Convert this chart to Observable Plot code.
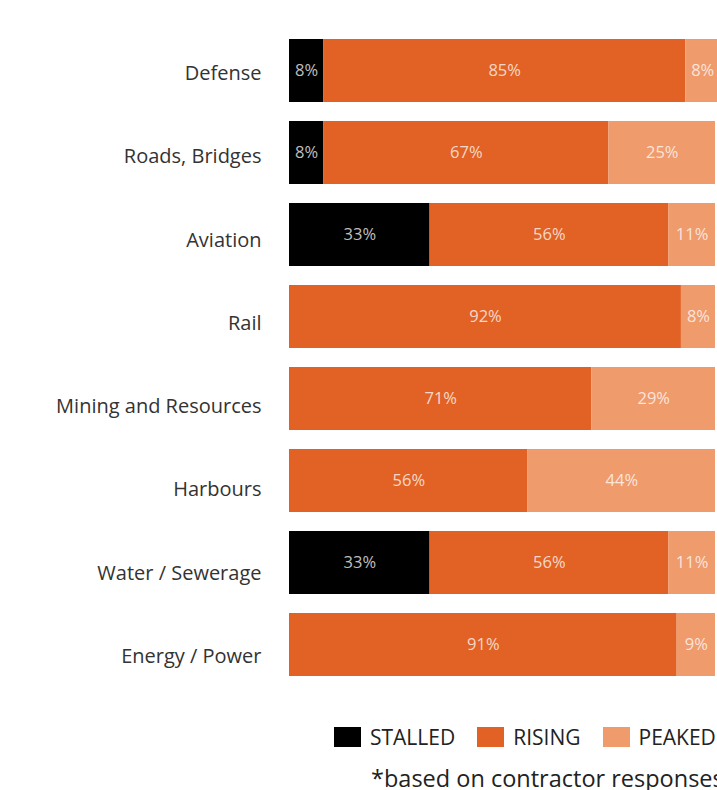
<!DOCTYPE html>
<html>
<head>
<meta charset="utf-8">
<script src="https://cdn.jsdelivr.net/npm/d3@7"></script>
<script src="https://cdn.jsdelivr.net/npm/@observablehq/plot@0.6"></script>
<style>
  html, body { margin: 0; padding: 0; background: #fff; overflow: hidden; }
  #wrap { position: relative; width: 717px; height: 790px; font-family: "Open Sans", sans-serif; }
  #legend { position: absolute; left: 334px; top: 724px; display: flex; align-items: center; font-size: 21px; line-height: 26px; color: #222; white-space: nowrap; }
  .item { display: flex; align-items: center; margin-right: 22px; }
  .sw { width: 27px; height: 20px; margin-right: 9px; }
  #caption { position: absolute; left: 371px; top: 763px; font-size: 23.5px; line-height: 30px; color: #222; white-space: nowrap; }
</style>
</head>
<body>
<div id="wrap">
  <div id="chart"></div>
  <div id="legend"></div>
  <div id="caption"></div>
</div>
<script>
const categories = ["Defense", "Roads, Bridges", "Aviation", "Rail", "Mining and Resources", "Harbours", "Water / Sewerage", "Energy / Power"];
const statuses = ["STALLED", "RISING", "PEAKED"];
const colors = ["#000000", "#e16224", "#ef9b6c"];
const stalled = [8, 8, 33, 0, 0, 0, 33, 0];
const rising = [85, 67, 56, 92, 71, 56, 56, 91];
const peaked = [8, 25, 11, 8, 29, 44, 11, 9];
const captionText = "*based on contractor responses";

const series = [stalled, rising, peaked];
const data = [];
categories.forEach((c, i) => {
  statuses.forEach((s, j) => {
    const v = series[j][i];
    if (v > 0) data.push({category: c, status: s, value: v});
  });
});

// category labels, each drawn through the y scale (slight progressive baseline drift as in the reference)
const labelMarks = categories.map((c, i) =>
  Plot.text([c], {y: d => d, text: d => d, frameAnchor: "left", textAnchor: "end",
    dx: -28, dy: 2.5 + i * 1.3, fontSize: 20, fill: "#333"})
);

const chart = Plot.plot({
  width: 717,
  height: 700,
  marginLeft: 289,
  marginRight: 2,
  marginTop: 38,
  marginBottom: 23,
  style: {fontFamily: "Open Sans, sans-serif", background: "white"},
  x: {domain: [0, 100], axis: null},
  y: {domain: categories, paddingInner: 0.23, paddingOuter: 0, axis: null},
  color: {domain: statuses, range: colors},
  marks: [
    Plot.barX(data, Plot.stackX({x: "value", y: "category", fill: "status", order: statuses})),
    Plot.text(data, Plot.stackX({x: "value", y: "category", z: "status", order: statuses,
      text: d => d.value + "%", fill: "white", fillOpacity: 0.75, fontSize: 16.5})),
    ...labelMarks
  ]
});
document.getElementById("chart").appendChild(chart);

const legend = document.getElementById("legend");
statuses.forEach((s, j) => {
  const item = document.createElement("div");
  item.className = "item";
  const sw = document.createElement("div");
  sw.className = "sw";
  sw.style.background = colors[j];
  const t = document.createElement("span");
  t.textContent = s;
  item.appendChild(sw);
  item.appendChild(t);
  legend.appendChild(item);
});
document.getElementById("caption").textContent = captionText;
</script>
</body>
</html>
